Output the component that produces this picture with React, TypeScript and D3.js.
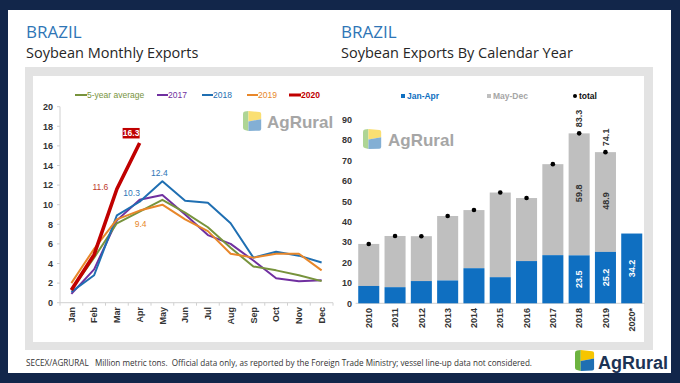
import React from "react";
import * as d3 from "d3";

const months = ["Jan", "Feb", "Mar", "Apr", "May", "Jun", "Jul", "Aug", "Sep", "Oct", "Nov", "Dec"];
const avg5 = [1.3, 4.6, 8.1, 9.3, 10.5, 9.2, 7.7, 5.6, 3.7, 3.3, 2.8, 2.2];
const s2017 = [0.9, 3.4, 8.4, 10.5, 11.0, 9.0, 6.9, 6.0, 4.3, 2.5, 2.2, 2.3];
const s2018 = [1.1, 2.8, 8.9, 10.3, 12.4, 10.4, 10.2, 8.1, 4.6, 5.2, 4.8, 4.1];
const s2019 = [2.0, 5.5, 8.5, 9.4, 10.0, 8.5, 7.3, 5.0, 4.6, 5.0, 5.0, 3.3];
const s2020 = [1.3, 4.9, 11.6, 16.3];
const lineNames = ["5-year average", "2017", "2018", "2019", "2020"];
const lineColors = ["#77933c", "#7030a0", "#1f6fb2", "#e8872a", "#c00000"];
const leftTicks = [0, 2, 4, 6, 8, 10, 12, 14, 16, 18, 20];

const years = ["2010", "2011", "2012", "2013", "2014", "2015", "2016", "2017", "2018", "2019", "2020*"];
const janApr = [8.5, 7.9, 10.9, 11.2, 17.2, 12.8, 20.7, 23.6, 23.5, 25.2, 34.2];
const mayDec = [20.6, 25.1, 22.0, 31.6, 28.5, 41.5, 30.9, 44.6, 59.8, 48.9, 0];
const totals = [29.1, 33.0, 32.9, 42.8, 45.7, 54.3, 51.6, 68.2, 83.3, 74.1, null];
const rightTicks = [0, 10, 20, 30, 40, 50, 60, 70, 80, 90];

const footer =
  "SECEX/AGRURAL   Million metric tons.  Official data only, as reported by the Foreign Trade Ministry; vessel line-up data not considered.";

const AX = "Liberation Sans, Arial, sans-serif";
const TF = "'Open Sans', 'Noto Sans', sans-serif";

function Icon({ x, y, s, op }: { x: number; y: number; s: number; op: number }) {
  const k = s / 22;
  return (
    <g transform={`translate(${x},${y}) scale(${k})`} opacity={op}>
      <path d="M0,3 Q0,1 2,0.6 L6,0 L6,22 L2,21 Q0,20.5 0,18.5 Z" fill="#6cb33f" />
      <path d="M6,0 L18,1.2 Q20,1.4 20,3.4 L20,9 L6,11.5 Z" fill="#f6c500" />
      <path d="M6,11.5 L20,9 L20,19.5 Q20,21.5 18,21.6 L6,22 Z" fill="#1f6fb2" />
    </g>
  );
}

export default function App() {
  const xL = d3.scaleBand<string>().domain(months).range([60, 333]);
  const yL = d3.scaleLinear().domain([0, 20]).range([302.7, 106.7]);
  const cx = (i: number) => (xL(months[i]) as number) + xL.bandwidth() / 2;
  const line = d3
    .line<number>()
    .x((_, i) => cx(i))
    .y((d) => yL(d));
  const series = [avg5, s2017, s2018, s2019, s2020];
  const order = [1, 0, 2, 3, 4];

  const xR = d3.scaleBand<string>().domain(years).range([355.6, 644.9]).paddingInner(0.2).paddingOuter(0.1);
  const yR = d3.scaleLinear().domain([0, 90]).range([303.3, 119.7]);
  const bw = xR.bandwidth();

  const legendL = [
    { x: 75, tx: 87 },
    { x: 157, tx: 168 },
    { x: 202, tx: 213 },
    { x: 247, tx: 258 },
    { x: 289, tx: 301 },
  ];

  return (
    <svg
      width={680}
      height={383}
      style={{ position: "fixed", left: 0, top: 0 }}
      xmlns="http://www.w3.org/2000/svg"
    >
      <rect x={0} y={0} width={680} height={383} fill="#12264a" />
      <rect x={8} y={10} width={663} height={363} fill="#ffffff" />
      <rect x={25} y={67} width={628} height={283} fill="#e3e3e3" />
      <rect x={33} y={76} width={611} height={266} fill="#ffffff" />

      <text x={26} y={37.5} fontFamily={TF} fontSize={17} fill="#2e75b6">BRAZIL</text>
      <text x={26} y={58} fontFamily={TF} fontSize={14.5} fill="#262626">Soybean Monthly Exports</text>
      <text x={341} y={37.5} fontFamily={TF} fontSize={17} fill="#2e75b6">BRAZIL</text>
      <text x={341} y={58} fontFamily={TF} fontSize={14.5} fill="#262626">Soybean Exports By Calendar Year</text>

      <Icon x={243} y={111} s={20} op={0.55} />
      <text x={267} y={128} fontFamily={AX} fontWeight="bold" fontSize={17} fill="#a6a6a6">AgRural</text>

      <line x1={60} x2={60} y1={yL(20)} y2={yL(0)} stroke="#d0d0d0" strokeWidth={1} />
      <line x1={60} x2={333} y1={yL(0)} y2={yL(0)} stroke="#d0d0d0" strokeWidth={1} />
      {leftTicks.map((t) => (
        <g key={t}>
          <line x1={57} x2={60} y1={yL(t)} y2={yL(t)} stroke="#d0d0d0" />
          <text x={53} y={yL(t) + 3.2} textAnchor="end" fontFamily={AX} fontWeight="bold" fontSize={9} fill="#333">
            {t}
          </text>
        </g>
      ))}
      {months.map((m, i) => (
        <g key={m}>
          <line x1={xL(m) as number} x2={xL(m) as number} y1={yL(0)} y2={yL(0) + 3} stroke="#d0d0d0" />
          <text
            transform={`translate(${cx(i) + 3.2},${307}) rotate(-90)`}
            textAnchor="end"
            fontFamily={AX}
            fontWeight="bold"
            fontSize={9}
            fill="#333"
          >
            {m}
          </text>
        </g>
      ))}
      <line x1={333} x2={333} y1={yL(0)} y2={yL(0) + 3} stroke="#d0d0d0" />

      {order.map((si) => (
        <path
          key={si}
          d={line(series[si]) as string}
          fill="none"
          stroke={lineColors[si]}
          strokeWidth={si === 4 ? 3.6 : 2}
          strokeLinejoin="round"
        />
      ))}

      {lineNames.map((n, i) => (
        <g key={n}>
          <line x1={legendL[i].x} x2={legendL[i].tx} y1={95} y2={95} stroke={lineColors[i]} strokeWidth={i === 4 ? 3 : 2} />
          <text
            x={legendL[i].tx}
            y={98}
            fontFamily={AX}
            fontSize={8.5}
            fontWeight={i === 4 ? "bold" : "normal"}
            fill={lineColors[i]}
          >
            {n}
          </text>
        </g>
      ))}

      <rect x={cx(3) - 17} y={yL(16.3) - 15} width={17} height={10.5} fill="#c00000" />
      <text x={cx(3) - 8.5} y={yL(16.3) - 6.6} textAnchor="middle" fontFamily={AX} fontWeight="bold" fontSize={8.5} fill="#fff">
        {s2020[3]}
      </text>
      <text x={cx(2) - 16.5} y={yL(11.6) + 0.5} textAnchor="middle" fontFamily={AX} fontSize={8.5} fill="#c0392b">
        {s2020[2]}
      </text>
      <text x={cx(3) - 8} y={yL(10.3) - 6} textAnchor="middle" fontFamily={AX} fontSize={8.5} fill="#2e75b6">
        {s2018[3]}
      </text>
      <text x={cx(4) - 3} y={yL(12.4) - 5.5} textAnchor="middle" fontFamily={AX} fontSize={8.5} fill="#2e75b6">
        {s2018[4]}
      </text>
      <text x={cx(3) + 1} y={yL(9.4) + 16.5} textAnchor="middle" fontFamily={AX} fontSize={8.5} fill="#e8872a">
        {s2019[3]}
      </text>

      <Icon x={363} y={129} s={20} op={0.55} />
      <text x={388} y={146} fontFamily={AX} fontWeight="bold" fontSize={17} fill="#a6a6a6">AgRural</text>

      <line x1={355.6} x2={644.9} y1={yR(0)} y2={yR(0)} stroke="#d0d0d0" />
      {rightTicks.map((t) => (
        <text key={t} x={352} y={yR(t) + 3.2} textAnchor="end" fontFamily={AX} fontWeight="bold" fontSize={9} fill="#333">
          {t}
        </text>
      ))}

      {years.map((yr, i) => {
        const x0 = xR(yr) as number;
        const c = x0 + bw / 2;
        const b = janApr[i];
        const g = mayDec[i];
        return (
          <g key={yr}>
            <rect x={x0} y={yR(b + g)} width={bw} height={yR(b) - yR(b + g)} fill="#bfbfbf" />
            <rect x={x0} y={yR(b)} width={bw} height={yR(0) - yR(b)} fill="#0f6fc1" />
            <text
              transform={`translate(${c + 3.2},${308}) rotate(-90)`}
              textAnchor="end"
              fontFamily={AX}
              fontWeight="bold"
              fontSize={9}
              fill="#333"
            >
              {yr}
            </text>
          </g>
        );
      })}

      {years.map((yr, i) => {
        const t = totals[i];
        if (t == null) return null;
        const c = (xR(yr) as number) + bw / 2;
        return <circle key={yr} cx={c} cy={yR(t)} r={2.3} fill="#000" />;
      })}

      {[8, 9, 10].map((i) => {
        const c = (xR(years[i]) as number) + bw / 2;
        const b = janApr[i];
        const g = mayDec[i];
        const t = totals[i];
        return (
          <g key={i} fontFamily={AX} fontWeight="bold" fontSize={9}>
            <text transform={`translate(${c + 3.2},${(yR(0) + yR(b)) / 2}) rotate(-90)`} textAnchor="middle" fill="#fff">
              {b.toFixed(1)}
            </text>
            {g > 0 && (
              <text
                transform={`translate(${c + 3.2},${(yR(b) + yR(b + g)) / 2 - 1}) rotate(-90)`}
                textAnchor="middle"
                fill="#333"
              >
                {g.toFixed(1)}
              </text>
            )}
            {t != null && (
              <text transform={`translate(${c + 3.2},${yR(t) - 6}) rotate(-90)`} textAnchor="start" fill="#333">
                {t.toFixed(1)}
              </text>
            )}
          </g>
        );
      })}

      <rect x={401} y={94} width={4} height={4} fill="#0f6fc1" />
      <text x={407} y={98.5} fontFamily={AX} fontWeight="bold" fontSize={8.5} fill="#0f6fc1">Jan-Apr</text>
      <rect x={487} y={94} width={4} height={4} fill="#bfbfbf" />
      <text x={493} y={98.5} fontFamily={AX} fontWeight="bold" fontSize={8.5} fill="#a6a6a6">May-Dec</text>
      <circle cx={575} cy={96} r={2} fill="#000" />
      <text x={579} y={98.5} fontFamily={AX} fontWeight="bold" fontSize={8.5} fill="#111">total</text>

      <text
        x={26}
        y={366}
        fontFamily={TF}
        fontSize={8.5}
        fill="#333"
        textLength={506}
        lengthAdjust="spacingAndGlyphs"
        style={{ whiteSpace: "pre" }}
      >
        {footer}
      </text>
      <Icon x={575} y={350} s={21} op={1} />
      <text x={598} y={369} fontFamily={AX} fontWeight="bold" fontSize={18} fill="#1c3354">AgRural</text>
    </svg>
  );
}
